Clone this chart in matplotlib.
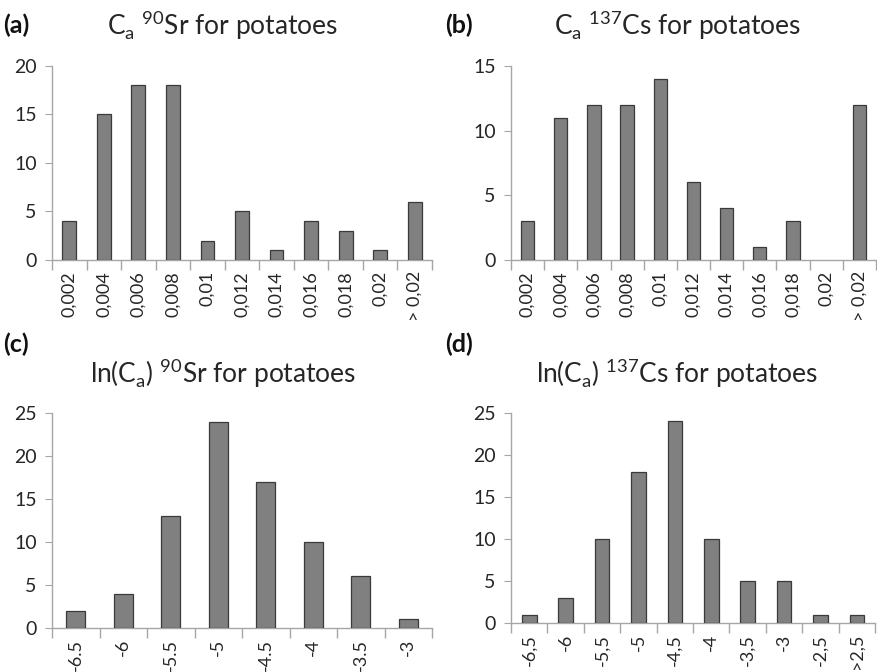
import matplotlib
matplotlib.use('Agg')
import matplotlib.pyplot as plt
import numpy as np

plt.rcParams['font.family'] = ['Lato', 'DejaVu Sans']
plt.rcParams['mathtext.fontset'] = 'custom'
plt.rcParams['mathtext.rm'] = 'Lato'

# Data
cats_a = ['0,002', '0,004', '0,006', '0,008', '0,01', '0,012', '0,014', '0,016', '0,018', '0,02', '> 0,02']
vals_a = [4, 15, 18, 18, 2, 5, 1, 4, 3, 1, 6]

cats_b = ['0,002', '0,004', '0,006', '0,008', '0,01', '0,012', '0,014', '0,016', '0,018', '0,02', '> 0,02']
vals_b = [3, 11, 12, 12, 14, 6, 4, 1, 3, 0, 12]

cats_c = ['-6.5', '-6', '-5.5', '-5', '-4.5', '-4', '-3.5', '-3']
vals_c = [2, 4, 13, 24, 17, 10, 6, 1]

cats_d = ['-6,5', '-6', '-5,5', '-5', '-4,5', '-4', '-3,5', '-3', '-2,5', '>2,5']
vals_d = [1, 3, 10, 18, 24, 10, 5, 5, 1, 1]

fig = plt.figure(figsize=(8.77, 6.72), dpi=100)

axis_col = '#a6a6a6'
bar_col = '#808080'
text_col = '#262626'


def hist_panel(rect, cats, vals, ymax, ystep, title, tag, title_x, title_y, tag_x, tag_y):
    ax = fig.add_axes(rect)
    x = np.arange(len(cats))
    # empty classes get no outline, so nothing shows on the axis
    edges = ['#3a3a3a' if v > 0 else 'none' for v in vals]
    ax.bar(x, vals, width=0.4, color=bar_col, edgecolor=edges, linewidth=0.9, zorder=3)
    ax.set_xlim(-0.5, len(cats) - 0.5)
    ax.set_ylim(0, ymax)
    ax.set_yticks(np.arange(0, ymax + 1, ystep))
    ax.set_xticks(x)
    ax.set_xticklabels(cats, rotation=90)
    ax.set_xticks(np.arange(-0.5, len(cats)), minor=True)
    ax.tick_params(axis='x', which='major', length=0, labelsize=13, colors=text_col, pad=8)
    ax.tick_params(axis='x', which='minor', length=7, color=axis_col, width=1)
    ax.tick_params(axis='y', length=5, color=axis_col, labelsize=14, labelcolor=text_col, pad=6)
    for s in ['top', 'right']:
        ax.spines[s].set_visible(False)
    for s in ['left', 'bottom']:
        ax.spines[s].set_color(axis_col)
        ax.spines[s].set_linewidth(1)
    pos = ax.get_position()
    fig.text(pos.x0 + pos.width * title_x, title_y, title, ha='center', va='center',
             fontsize=19, color=text_col)
    fig.text(tag_x, tag_y, tag, ha='left', va='center', fontsize=18, fontweight='bold', color='#111111')
    return ax


hist_panel([0.0593, 0.6131, 0.4333, 0.2887], cats_a, vals_a, 20, 5,
           r'C$_\mathregular{a}$ $^\mathregular{90}$Sr for potatoes', '(a)', 0.45, 0.962, 0.003, 0.962)
hist_panel([0.5827, 0.6131, 0.4160, 0.2887], cats_b, vals_b, 15, 5,
           r'C$_\mathregular{a}$ $^\mathregular{137}$Cs for potatoes', '(b)', 0.457, 0.962, 0.507, 0.962)
hist_panel([0.0593, 0.0655, 0.4333, 0.3199], cats_c, vals_c, 25, 5,
           r'ln(C$_\mathregular{a}$) $^\mathregular{90}$Sr for potatoes', '(c)', 0.45, 0.445, 0.003, 0.487)
hist_panel([0.5827, 0.0729, 0.4151, 0.3125], cats_d, vals_d, 25, 5,
           r'ln(C$_\mathregular{a}$) $^\mathregular{137}$Cs for potatoes', '(d)', 0.455, 0.445, 0.508, 0.487)

plt.savefig('out.png', dpi=100)
